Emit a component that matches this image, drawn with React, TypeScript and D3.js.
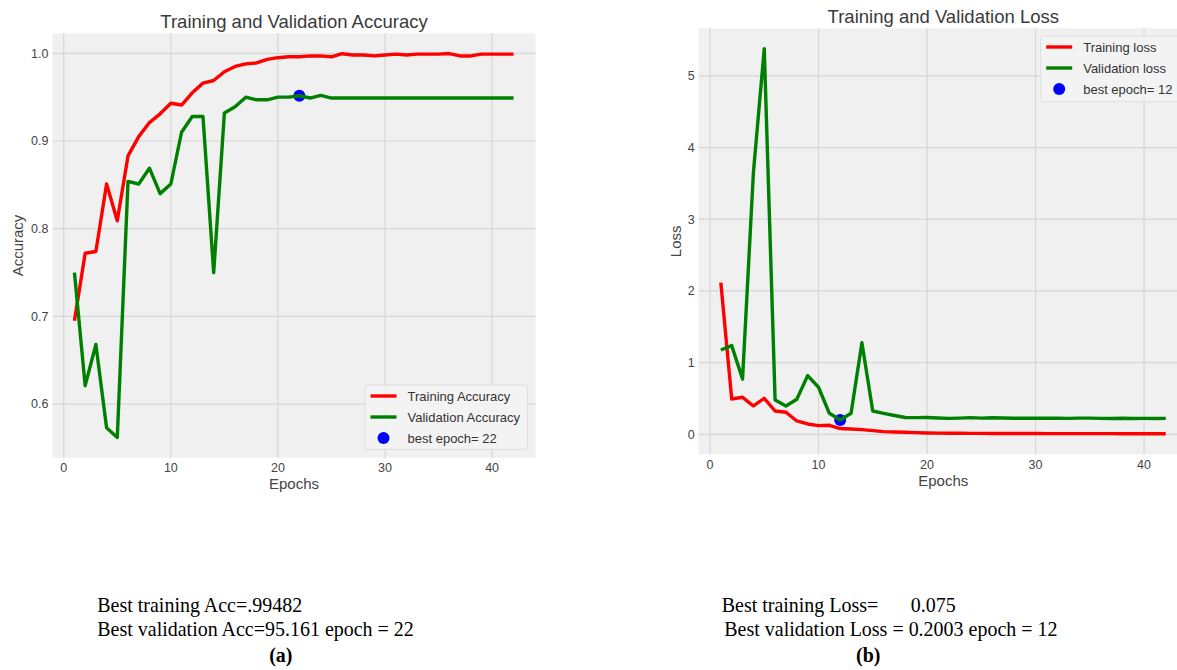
import React from "react";
import * as d3 from "d3";

// ---------- data ----------
const epochs = [1,2,3,4,5,6,7,8,9,10,11,12,13,14,15,16,17,18,19,20,21,22,23,24,25,26,27,28,29,30,31,32,33,34,35,36,37,38,39,40,41,42];

const trainAcc = [0.695,0.772,0.774,0.851,0.809,0.883,0.905,0.921,0.931,0.943,0.941,0.955,0.966,0.969,0.979,0.985,0.988,0.989,0.993,0.995,0.996,0.996,0.997,0.997,0.996,0.9995,0.998,0.998,0.997,0.998,0.999,0.998,0.999,0.999,0.999,0.9997,0.997,0.997,0.999,0.999,0.999,0.999];
const valAcc = [0.750,0.621,0.668,0.573,0.562,0.854,0.851,0.869,0.840,0.851,0.910,0.928,0.928,0.750,0.932,0.939,0.950,0.947,0.947,0.950,0.950,0.9516,0.949,0.952,0.949,0.949,0.949,0.949,0.949,0.949,0.949,0.949,0.949,0.949,0.949,0.949,0.949,0.949,0.949,0.949,0.949,0.949];

const trainLoss = [2.115,0.493,0.516,0.395,0.502,0.325,0.307,0.186,0.144,0.121,0.126,0.080,0.074,0.065,0.051,0.037,0.033,0.028,0.023,0.019,0.016,0.015,0.014,0.013,0.013,0.012,0.012,0.011,0.011,0.011,0.010,0.010,0.010,0.009,0.009,0.009,0.009,0.008,0.008,0.008,0.008,0.008];
const valLoss = [1.176,1.237,0.770,3.650,5.380,0.479,0.395,0.488,0.818,0.656,0.293,0.2003,0.293,1.278,0.325,0.293,0.262,0.234,0.232,0.235,0.228,0.222,0.226,0.232,0.226,0.230,0.228,0.224,0.223,0.223,0.224,0.226,0.222,0.226,0.225,0.222,0.221,0.223,0.221,0.222,0.221,0.222];

const xTicks = [0, 10, 20, 30, 40];
const accTicks = [0.6, 0.7, 0.8, 0.9, 1.0];
const lossTicks = [0, 1, 2, 3, 4, 5];

const bestAcc = { epoch: 22, value: 0.95161 };
const bestLoss = { epoch: 12, value: 0.2003 };

const accLegend = ["Training Accuracy", "Validation Accuracy", "best epoch= 22"];
const lossLegend = ["Training loss", "Validation loss", "best epoch= 12"];

const accNotes = ["Best training Acc=.99482", "Best validation Acc=95.161 epoch = 22"];
const lossNotes = ["Best training Loss=", "0.075", "Best validation Loss = 0.2003 epoch = 12"];

// ---------- styles ----------
const SANS = "'Liberation Sans', Arial, sans-serif";
const SERIF = "'Liberation Serif', 'Times New Roman', serif";
const BG = "#f0f0f0";
const GRID = "#d6d6d6";
const RED = "#ff0000";
const GREEN = "#008000";
const BLUE = "#0000ff";

type PanelProps = {
  left: number; right: number; top: number; bottom: number;
  yDomain: [number, number];
  yTicks: number[];
  yFmt: (v: number) => string;
  train: number[]; val: number[];
  best: { epoch: number; value: number };
  title: string; yLabel: string; yLabelX: number;
  legend: string[];
  legendBox: { x: number; y: number; w: number; h: number };
  clipId: string;
};

function Panel(p: PanelProps) {
  const x = d3.scaleLinear().domain([-1.05, 44.05]).range([p.left, p.right]);
  const y = d3.scaleLinear().domain(p.yDomain).range([p.bottom, p.top]);
  const line = d3.line<number>().x((_, i) => x(epochs[i])).y((d) => y(d));
  const cx = (p.left + p.right) / 2;
  const cy = (p.top + p.bottom) / 2;
  const lb = p.legendBox;
  const rowY = [lb.y + 11, lb.y + 32, lb.y + 53];
  const hx0 = lb.x + 5.5;
  const hx1 = hx0 + 26;
  const tx = lb.x + 42.5;
  return (
    <g>
      <defs>
        <clipPath id={p.clipId}>
          <rect x={p.left} y={p.top} width={p.right - p.left} height={p.bottom - p.top} />
        </clipPath>
      </defs>
      <rect x={p.left} y={p.top} width={p.right - p.left} height={p.bottom - p.top} fill={BG} />
      {xTicks.map((t) => (
        <line key={"gx" + t} x1={x(t)} x2={x(t)} y1={p.top} y2={p.bottom} stroke={GRID} strokeWidth={1.2} />
      ))}
      {p.yTicks.map((t) => (
        <line key={"gy" + t} x1={p.left} x2={p.right} y1={y(t)} y2={y(t)} stroke={GRID} strokeWidth={1.2} />
      ))}
      {xTicks.map((t) => (
        <text key={"tx" + t} x={x(t)} y={p.bottom + 14.5} textAnchor="middle" fontFamily={SANS} fontSize={12.5} fill="#444">{t}</text>
      ))}
      {p.yTicks.map((t) => (
        <text key={"ty" + t} x={p.left - 4} y={y(t)} dy="0.35em" textAnchor="end" fontFamily={SANS} fontSize={12.5} fill="#444">{p.yFmt(t)}</text>
      ))}
      <text x={cx} y={p.top - 5} textAnchor="middle" fontFamily={SANS} fontSize={18.5} fill="#3a3a3a">{p.title}</text>
      <text x={cx} y={p.bottom + 31.5} textAnchor="middle" fontFamily={SANS} fontSize={15} fill="#444">Epochs</text>
      <text transform={`translate(${p.yLabelX},${cy}) rotate(-90)`} textAnchor="middle" fontFamily={SANS} fontSize={15} fill="#444">{p.yLabel}</text>
      <g clipPath={`url(#${p.clipId})`}>
        <circle cx={x(p.best.epoch)} cy={y(p.best.value)} r={6} fill={BLUE} />
        <path d={line(p.train) || ""} fill="none" stroke={RED} strokeWidth={3.4} strokeLinejoin="round" strokeLinecap="butt" />
        <path d={line(p.val) || ""} fill="none" stroke={GREEN} strokeWidth={3.4} strokeLinejoin="round" strokeLinecap="butt" />
      </g>
      <rect x={lb.x} y={lb.y} width={lb.w} height={lb.h} rx={2.5} fill="#f3f3f3" fillOpacity={0.9} stroke="#dedede" strokeWidth={1} />
      <line x1={hx0} x2={hx1} y1={rowY[0]} y2={rowY[0]} stroke={RED} strokeWidth={3.4} />
      <line x1={hx0} x2={hx1} y1={rowY[1]} y2={rowY[1]} stroke={GREEN} strokeWidth={3.4} />
      <circle cx={(hx0 + hx1) / 2} cy={rowY[2]} r={6} fill={BLUE} />
      {p.legend.map((s, i) => (
        <text key={s} x={tx} y={rowY[i]} dy="0.35em" fontFamily={SANS} fontSize={13} fill="#333">{s}</text>
      ))}
    </g>
  );
}

function Note(props: { x: number; y: number; text: string; anchor?: string; bold?: boolean }) {
  return (
    <text
      transform={`translate(${props.x},${props.y}) scale(0.925,1)`}
      textAnchor={props.anchor || "start"}
      fontWeight={props.bold ? "bold" : "normal"}
      fontFamily={SERIF}
      fontSize={21.6}
      fill="#000"
    >
      {props.text}
    </text>
  );
}

export default function App() {
  return (
    <svg width={1177} height={670} style={{ position: "absolute", left: 0, top: 0, background: "#fff" }}>
      <rect x={0} y={0} width={1177} height={670} fill="#fff" />
      <Panel
        left={52.5} right={535.5} top={33.3} bottom={457.7}
        yDomain={[0.5389, 1.0228]} yTicks={accTicks} yFmt={(v) => v.toFixed(1)}
        train={trainAcc} val={valAcc} best={bestAcc}
        title="Training and Validation Accuracy" yLabel="Accuracy" yLabelX={22.5}
        legend={accLegend} legendBox={{ x: 365, y: 385, w: 162.5, h: 64.3 }} clipId="clipAcc"
      />
      <Panel
        left={698.6} right={1188} top={28.3} bottom={454.3}
        yDomain={[-0.279, 5.663]} yTicks={lossTicks} yFmt={(v) => String(v)}
        train={trainLoss} val={valLoss} best={bestLoss}
        title="Training and Validation Loss" yLabel="Loss" yLabelX={681}
        legend={lossLegend} legendBox={{ x: 1040.7, y: 36, w: 140, h: 65.7 }} clipId="clipLoss"
      />
      <Note x={97.3} y={611.7} text={accNotes[0]} />
      <Note x={97.3} y={635.7} text={accNotes[1]} />
      <Note x={280.8} y={662} text="(a)" anchor="middle" bold />
      <Note x={721.7} y={611.7} text={lossNotes[0]} />
      <Note x={910.7} y={611.7} text={lossNotes[1]} />
      <Note x={724.3} y={635.7} text={lossNotes[2]} />
      <Note x={868.3} y={662} text="(b)" anchor="middle" bold />
    </svg>
  );
}
